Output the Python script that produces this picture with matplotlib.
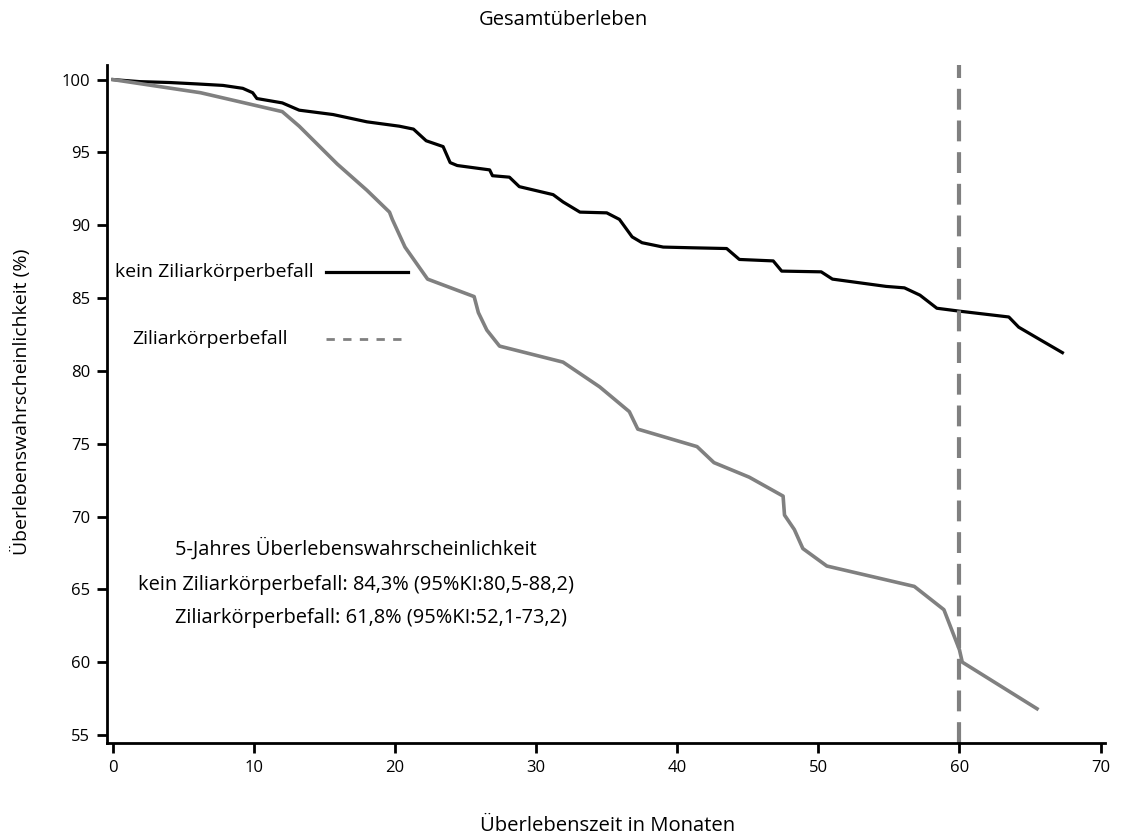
import matplotlib.pyplot as plt

plt.rcParams['font.family'] = ['Open Sans', 'DejaVu Sans']

# kein Ziliarkoerperbefall (black)
kein_t = [0, 1.9, 4, 6, 7.8, 9.2, 9.9, 10.2, 12, 13.2, 15.6, 18, 20.3, 21.3, 22.2, 23.4,
          23.9, 24.4, 26.7, 26.9, 28.1, 28.8, 31.2, 31.9, 33.1, 35, 35.9, 36.8, 37.5, 39,
          41.1, 43.5, 44.4, 46.8, 47.4, 50.2, 51, 52.9, 54.8, 56.1, 57.2, 58.4, 60, 63.5,
          64.2, 65.7, 67.3]
kein_s = [100, 99.86, 99.8, 99.7, 99.6, 99.4, 99.1, 98.7, 98.4, 97.9, 97.6, 97.1, 96.8, 96.6,
          95.8, 95.4, 94.3, 94.1, 93.8, 93.4, 93.3, 92.65, 92.1, 91.6, 90.9, 90.85, 90.4, 89.2,
          88.8, 88.5, 88.45, 88.4, 87.65, 87.55, 86.85, 86.8, 86.3, 86.05, 85.8, 85.7, 85.2,
          84.3, 84.1, 83.7, 83.0, 82.15, 81.25]

# Ziliarkoerperbefall (gray)
zil_t = [0, 6.2, 12, 13.2, 15.9, 18, 19.6, 19.8, 20.7, 22.3, 25.6, 25.9, 26.5, 27.4, 31.9,
         34.5, 36.6, 37.2, 41.4, 42.6, 45.1, 47.5, 47.6, 48.3, 48.9, 50.6, 56.8, 58.9, 60.0,
         60.2, 65.5]
zil_s = [100, 99.1, 97.8, 96.8, 94.2, 92.4, 90.9, 90.4, 88.5, 86.3, 85.1, 84.0, 82.8, 81.7,
         80.6, 78.9, 77.2, 76.0, 74.8, 73.7, 72.7, 71.4, 70.1, 69.1, 67.8, 66.6, 65.2, 63.6,
         60.85, 60.0, 56.8]

five_years = 60
x_ticks = [0, 10, 20, 30, 40, 50, 60, 70]
y_ticks = [55, 60, 65, 70, 75, 80, 85, 90, 95, 100]

fig = plt.figure(figsize=(11.21, 8.38), dpi=100)
ax = fig.add_axes([0.0955, 0.1134, 0.89, 0.809])

gray = '#808080'
ax.plot(kein_t, kein_s, color='black', lw=2.3, solid_joinstyle='round')
ax.plot(zil_t, zil_s, color=gray, lw=2.6, solid_joinstyle='round')
ax.axvline(five_years, color=gray, lw=3, dashes=(5, 2.6))

ax.set_xlim(-0.42, 70.3)
ax.set_ylim(54.45, 101.0)
ax.set_xticks(x_ticks)
ax.set_yticks(y_ticks)

for side in ['top', 'right']:
    ax.spines[side].set_visible(False)
for side in ['left', 'bottom']:
    ax.spines[side].set_linewidth(2)
ax.tick_params(direction='out', length=7, width=2, labelsize=12, pad=5)

fs = 14.4
# legend drawn by hand like in the original
ax.text(0.14, 86.8, 'kein Ziliarkörperbefall', fontsize=14, va='center', ha='left')
ax.plot([15.1, 20.9], [86.8, 86.8], color='black', lw=2.3)
ax.text(1.4, 82.2, 'Ziliarkörperbefall', fontsize=14, va='center', ha='left')
ax.plot([15.1, 20.7], [82.2, 82.2], color=gray, lw=2, dashes=(3, 3))

ax.text(17.2, 67.8, '5-Jahres Überlebenswahrscheinlichkeit', fontsize=fs, ha='center', va='center')
ax.text(17.2, 65.3, 'kein Ziliarkörperbefall: 84,3% (95%KI:80,5-88,2)', fontsize=fs,
        ha='center', va='center')
ax.text(32.2, 63.0, 'Ziliarkörperbefall: 61,8% (95%KI:52,1-73,2)', fontsize=fs,
        ha='right', va='center')

fig.text(0.503, 0.976, 'Gesamtüberleben', fontsize=14.5, ha='center', va='center')
fig.text(0.542, 0.014, 'Überlebenszeit in Monaten', fontsize=14.6, ha='center', va='center')
fig.text(0.019, 0.52, 'Überlebenswahrscheinlichkeit (%)', fontsize=14, ha='center',
         va='center', rotation=90)

fig.savefig('out.png', dpi=100)
